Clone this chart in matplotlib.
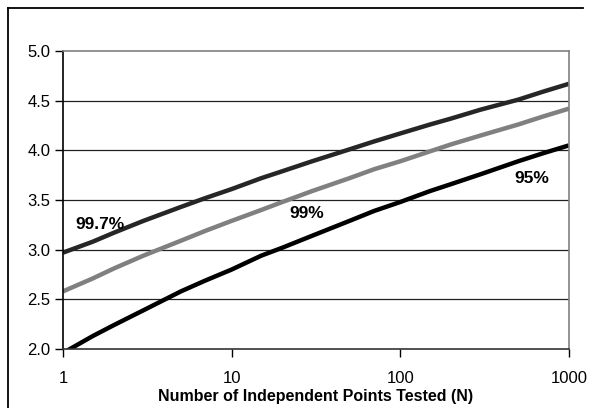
import matplotlib as mpl
mpl.use('Agg')
import matplotlib.pyplot as plt
from matplotlib.lines import Line2D

n_tested = [1, 1.5, 2, 3, 5, 7, 10, 15, 20, 30, 50, 70, 100, 150, 200, 300, 500, 700, 1000]
z_95 = [1.96, 2.13, 2.24, 2.39, 2.58, 2.69, 2.80, 2.94, 3.02, 3.14, 3.29, 3.39, 3.48,
        3.59, 3.66, 3.76, 3.89, 3.97, 4.05]
z_99 = [2.58, 2.71, 2.81, 2.94, 3.09, 3.19, 3.29, 3.40, 3.48, 3.59, 3.72, 3.81, 3.89,
        3.99, 4.06, 4.15, 4.26, 4.34, 4.42]
z_997 = [2.97, 3.08, 3.17, 3.29, 3.43, 3.52, 3.61, 3.72, 3.79, 3.89, 4.01, 4.09, 4.17,
         4.26, 4.32, 4.41, 4.51, 4.59, 4.67]

plt.rcParams['font.family'] = ['Liberation Sans', 'DejaVu Sans']

W, H = 589, 408
fig = plt.figure(figsize=(W / 100, H / 100), dpi=100)
ax = fig.add_axes([63 / W, 1 - 349 / H, (569 - 63) / W, (349 - 51) / H])

# outer chart border (left and top edges are what shows)
fig.lines.append(Line2D([8 / W, 8 / W], [0, 1 - 8 / H], transform=fig.transFigure,
                        color='black', lw=1.3))
fig.lines.append(Line2D([8 / W, 583 / W], [1 - 8 / H, 1 - 8 / H], transform=fig.transFigure,
                        color='black', lw=1.3))

ax.plot(n_tested, z_95, color='black', lw=3.2, solid_capstyle='butt')
ax.plot(n_tested, z_99, color='#808080', lw=3.2, solid_capstyle='butt')
ax.plot(n_tested, z_997, color='#262626', lw=3.2, solid_capstyle='butt')

ax.set_xscale('log')
ax.set_xlim(1, 1000)
ax.set_ylim(2.0, 5.0)
yt = [2.0, 2.5, 3.0, 3.5, 4.0, 4.5, 5.0]
ax.set_yticks(yt)
ax.set_yticklabels(['%.1f' % v for v in yt])
ax.set_xticks([1, 10, 100, 1000])
ax.set_xticklabels(['1', '10', '100', '1000'])
ax.xaxis.set_minor_locator(mpl.ticker.NullLocator())
ax.tick_params(axis='both', labelsize=12, length=6, width=1, direction='out', colors='black')
ax.tick_params(axis='x', pad=10)
ax.tick_params(axis='y', pad=3)

for y in [2.5, 3.0, 3.5, 4.0, 4.5]:
    ax.axhline(y, color='#222222', lw=0.9, zorder=0)

for s in ['top', 'right']:
    ax.spines[s].set_color('#808080')
    ax.spines[s].set_linewidth(1.2)
ax.spines['left'].set_color('black')
ax.spines['bottom'].set_color('#333333')
ax.spines['left'].set_linewidth(1.2)
ax.spines['bottom'].set_linewidth(1.2)

ax.set_xlabel('Number of Independent Points Tested (N)', fontsize=11.5, fontweight='bold', labelpad=2)

ax.text(1.66, 3.25, '99.7%', fontsize=12.5, fontweight='bold', ha='center', va='center')
ax.text(28, 3.36, '99%', fontsize=12.5, fontweight='bold', ha='center', va='center')
ax.text(600, 3.72, '95%', fontsize=12.5, fontweight='bold', ha='center', va='center')

fig.savefig('out.png', dpi=100)
